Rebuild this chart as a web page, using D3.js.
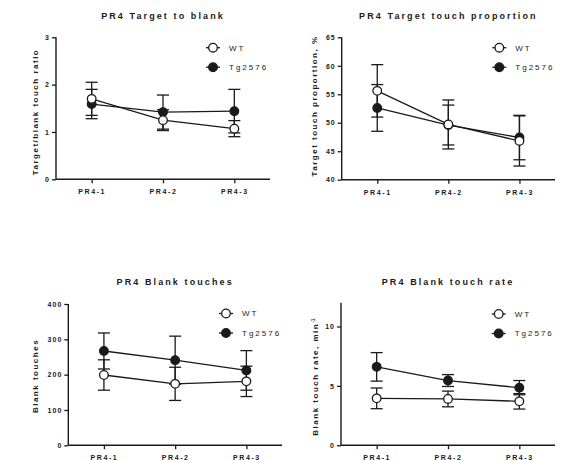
<!DOCTYPE html>
<html>
<head>
<meta charset="utf-8">
<script src="https://cdn.jsdelivr.net/npm/d3@7"></script>
<style>
  body { margin: 0; background: #fff; }
  svg { display: block; }
  text { font-family: "Liberation Sans", Arial, sans-serif; fill: #1a1a1a; }
</style>
</head>
<body>
<svg id="chart" width="574" height="460"></svg>
<script>
// ---- data ----
const categories = ["PR4-1", "PR4-2", "PR4-3"];
const seriesNames = ["WT", "Tg2576"];

const ratioWT = [1.70, 1.25, 1.07];
const ratioWTErr = [0.35, 0.22, 0.17];
const ratioTg = [1.59, 1.42, 1.44];
const ratioTgErr = [0.31, 0.36, 0.46];
const ratioTicks = [0, 1, 2, 3];

const propWT = [55.6, 49.7, 46.8];
const propWTErr = [4.6, 4.3, 4.4];
const propTg = [52.6, 49.6, 47.4];
const propTgErr = [4.1, 3.5, 3.9];
const propTicks = [40, 45, 50, 55, 60, 65];

const blankWT = [199, 174, 181];
const blankWTErr = [43, 47, 43];
const blankTg = [267, 241, 212];
const blankTgErr = [51, 68, 56];
const blankTicks = [0, 100, 200, 300, 400];

const rateWT = [3.95, 3.9, 3.7];
const rateWTErr = [0.87, 0.66, 0.65];
const rateTg = [6.6, 5.45, 4.85];
const rateTgErr = [1.2, 0.5, 0.6];
const rateTicks = [0, 5, 10];

const titles = ["PR4 Target to blank", "PR4 Target touch proportion", "PR4 Blank touches", "PR4 Blank touch rate"];
const yLabels = ["Target/blank touch ratio", "Target touch proportion, %", "Blank touches", "Blank touch rate, min"];

// ---- layout ----
const panels = [
  { title: titles[0], ylabel: yLabels[0], wt: ratioWT, wtErr: ratioWTErr, tg: ratioTg, tgErr: ratioTgErr,
    ticks: ratioTicks, domain: [0, 3],
    left: 56, right: 270, top: 37.3, bottom: 179.3, titleY: 19, ylx: 35, yly: 112, legX: 213, legY: 47.7 },
  { title: titles[1], ylabel: yLabels[1], wt: propWT, wtErr: propWTErr, tg: propTg, tgErr: propTgErr,
    ticks: propTicks, domain: [40, 65],
    left: 341.7, right: 555, top: 37.3, bottom: 179.7, titleY: 19, ylx: 314.5, yly: 106, legX: 499.3, legY: 47.7 },
  { title: titles[2], ylabel: yLabels[2], wt: blankWT, wtErr: blankWTErr, tg: blankTg, tgErr: blankTgErr,
    ticks: blankTicks, domain: [0, 400],
    left: 68.3, right: 282, top: 304, bottom: 445.3, titleY: 285, ylx: 35, yly: 376, legX: 226, legY: 313.5 },
  { title: titles[3], ylabel: yLabels[3], wt: rateWT, wtErr: rateWTErr, tg: rateTg, tgErr: rateTgErr,
    ticks: rateTicks, domain: [0, 12], sup: "-1",
    left: 341, right: 555, top: 302.7, bottom: 445.3, titleY: 285, ylx: 315.5, yly: 377, legX: 498.7, legY: 314 }
];

const svg = d3.select("#chart");
const ink = "#1a1a1a";

panels.forEach(p => {
  const g = svg.append("g");
  const x = d3.scalePoint().domain(categories).range([p.left, p.right]).padding(0.5);
  const y = d3.scaleLinear().domain(p.domain).range([p.bottom, p.top]);

  // title
  g.append("text")
    .attr("x", (p.left + p.right) / 2).attr("y", p.titleY)
    .attr("text-anchor", "middle")
    .style("font-size", "9px").style("font-weight", "bold").style("letter-spacing", "2.1px")
    .text(p.title);

  // y axis
  const yAxis = d3.axisLeft(y).tickValues(p.ticks).tickSize(4).tickSizeOuter(0).tickPadding(2)
    .tickFormat(d3.format("d"));
  const ya = g.append("g").attr("transform", `translate(${p.left},0)`).call(yAxis);
  ya.select(".domain").attr("d", `M0,${p.top}V${p.bottom}`).attr("stroke", ink).attr("stroke-width", 1.4);
  ya.selectAll(".tick line").attr("stroke", ink).attr("stroke-width", 1.3);
  ya.selectAll(".tick text").style("font-size", "7px").style("font-weight", "bold")
    .style("letter-spacing", "1px").style("font-family", "Liberation Sans, Arial, sans-serif").attr("fill", ink);

  // x axis
  const xAxis = d3.axisBottom(x).tickSize(4).tickSizeOuter(0).tickPadding(6);
  const xa = g.append("g").attr("transform", `translate(0,${p.bottom})`).call(xAxis);
  xa.select(".domain").attr("d", `M${p.left},0H${p.right}`).attr("stroke", ink).attr("stroke-width", 1.4);
  xa.selectAll(".tick line").attr("stroke", ink).attr("stroke-width", 1.3);
  xa.selectAll(".tick text").style("font-size", "7px").style("font-weight", "bold")
    .style("letter-spacing", "1.6px").style("font-family", "Liberation Sans, Arial, sans-serif").attr("fill", ink);

  // y label
  const yl = g.append("text")
    .attr("transform", `translate(${p.ylx},${p.yly}) rotate(-90)`)
    .attr("text-anchor", "middle").attr("dy", "0.35em")
    .style("font-size", "8px").style("font-weight", "bold").style("letter-spacing", "1.5px")
    .text(p.ylabel);
  if (p.sup) {
    yl.append("tspan").attr("dy", "-3").style("font-size", "5px").style("letter-spacing", "0px").text(p.sup);
  }

  // series: draw Tg first, WT on top
  const series = [
    { name: seriesNames[1], vals: p.tg, errs: p.tgErr, fill: ink },
    { name: seriesNames[0], vals: p.wt, errs: p.wtErr, fill: "#fff" }
  ];
  const line = d3.line().x((d, i) => x(categories[i])).y(d => y(d));

  series.forEach(s => {
    g.append("path").datum(s.vals).attr("d", line)
      .attr("fill", "none").attr("stroke", ink).attr("stroke-width", 1.3);
  });
  series.forEach(s => {
    const eb = g.append("g");
    s.vals.forEach((v, i) => {
      const cx = x(categories[i]);
      const hi = y(v + s.errs[i]), lo = y(v - s.errs[i]);
      eb.append("line").attr("x1", cx).attr("x2", cx).attr("y1", hi).attr("y2", lo)
        .attr("stroke", ink).attr("stroke-width", 1.3);
      [hi, lo].forEach(yy => eb.append("line").attr("x1", cx - 6).attr("x2", cx + 6)
        .attr("y1", yy).attr("y2", yy).attr("stroke", ink).attr("stroke-width", 1.3));
    });
  });
  series.forEach(s => {
    g.append("g").selectAll("circle").data(s.vals).join("circle")
      .attr("cx", (d, i) => x(categories[i])).attr("cy", d => y(d)).attr("r", 4.3)
      .attr("fill", s.fill).attr("stroke", ink).attr("stroke-width", 1.3);
  });

  // legend
  const leg = g.append("g");
  [seriesNames[0], seriesNames[1]].forEach((name, k) => {
    const ly = p.legY + k * 19.5;
    leg.append("line").attr("x1", p.legX - 7).attr("x2", p.legX + 7).attr("y1", ly).attr("y2", ly)
      .attr("stroke", ink).attr("stroke-width", 1.3);
    leg.append("circle").attr("cx", p.legX).attr("cy", ly).attr("r", 4.3)
      .attr("fill", k === 0 ? "#fff" : ink).attr("stroke", ink).attr("stroke-width", 1.3);
    leg.append("text").attr("x", p.legX + 16).attr("y", ly).attr("dy", "0.35em")
      .style("font-size", "8px").style("letter-spacing", "2px").text(name);
  });
});
</script>
</body>
</html>
